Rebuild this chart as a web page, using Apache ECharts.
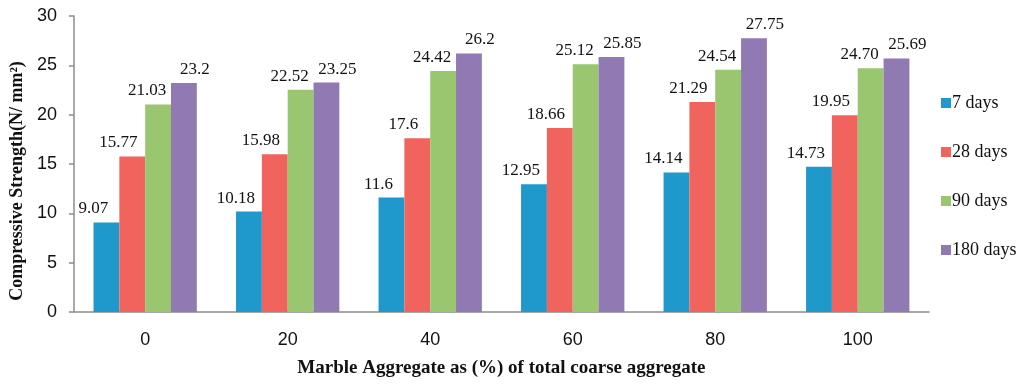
<!DOCTYPE html>
<html>
<head>
<meta charset="utf-8">
<script src="https://cdn.jsdelivr.net/npm/echarts@6/dist/echarts.min.js"></script>
<style>html,body{margin:0;padding:0;background:#fff;}#c{width:1024px;height:385px;}</style>
</head>
<body>
<div id="c"></div>
<script>
const categories = ['0', '20', '40', '60', '80', '100'];
const seriesNames = ['7 days', '28 days', '90 days', '180 days'];
const days7 = [9.07, 10.18, 11.6, 12.95, 14.14, 14.73];
const days28 = [15.77, 15.98, 17.6, 18.66, 21.29, 19.95];
const days90 = [21.03, 22.52, 24.42, 25.12, 24.54, 24.70];
const days180 = [23.2, 23.25, 26.2, 25.85, 27.75, 25.69];
const labels7 = ['9.07', '10.18', '11.6', '12.95', '14.14', '14.73'];
const labels28 = ['15.77', '15.98', '17.6', '18.66', '21.29', '19.95'];
const labels90 = ['21.03', '22.52', '24.42', '25.12', '24.54', '24.70'];
const labels180 = ['23.2', '23.25', '26.2', '25.85', '27.75', '25.69'];
const yTicks = { min: 0, max: 30, interval: 5 };

const colors = ['#1F98CC', '#F0645D', '#99C66F', '#9179B4'];
const values = [days7, days28, days90, days180];
const labelTexts = [labels7, labels28, labels90, labels180];
const offsets = [[-13, 0], [-14, 0], [-11, 0], [11, 0]];

const chart = echarts.init(document.getElementById('c'));
chart.setOption({
  animation: false,
  grid: { left: 73, right: 95, top: 16, bottom: 73 },
  legend: {
    orient: 'vertical',
    left: 936,
    top: 89,
    itemWidth: 10,
    itemHeight: 10,
    itemGap: 31,
    icon: 'rect',
    textStyle: { fontFamily: 'Liberation Serif', fontSize: 18, color: '#111', padding: [0, 0, 0, -4] },
    data: seriesNames
  },
  xAxis: {
    type: 'category',
    data: categories,
    name: 'Marble Aggregate as (%) of total coarse aggregate',
    nameLocation: 'middle',
    nameGap: 47,
    nameTextStyle: { fontFamily: 'Liberation Serif', fontWeight: 'bold', fontSize: 19, color: '#111', verticalAlign: 'top' },
    axisLine: { lineStyle: { color: '#8c8c8c', width: 1.5 } },
    axisTick: { length: 6, lineStyle: { color: '#8c8c8c', width: 1.5 } },
    axisLabel: { fontFamily: 'Liberation Sans', fontSize: 18, color: '#111', margin: 19 }
  },
  yAxis: {
    type: 'value',
    min: yTicks.min, max: yTicks.max, interval: yTicks.interval,
    name: 'Compressive Strength(N/ mm²)',
    nameLocation: 'middle',
    nameGap: 45,
    nameTextStyle: { fontFamily: 'Liberation Serif', fontWeight: 'bold', fontSize: 18, color: '#111', padding: [0, 34, 0, 0] },
    axisLine: { show: true, lineStyle: { color: '#8c8c8c', width: 1.5 } },
    axisTick: { show: true, length: 5, lineStyle: { color: '#8c8c8c', width: 1.5 } },
    splitLine: { show: false },
    axisLabel: { fontFamily: 'Liberation Sans', fontSize: 18, color: '#111', margin: 17 }
  },
  series: seriesNames.map((n, i) => ({
    name: n,
    type: 'bar',
    data: values[i],
    barGap: '0%',
    barCategoryGap: '27.5%',
    itemStyle: { color: colors[i] },
    label: {
      show: true,
      position: 'top',
      distance: 5,
      offset: offsets[i],
      fontFamily: 'Liberation Serif',
      fontSize: 17,
      color: '#111',
      formatter: p => labelTexts[i][p.dataIndex]
    }
  }))
});
</script>
</body>
</html>
